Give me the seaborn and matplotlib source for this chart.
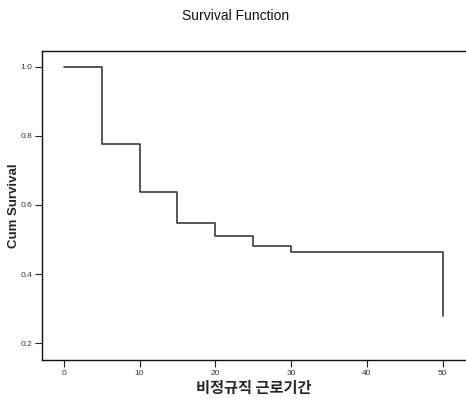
import matplotlib
matplotlib.use("Agg")
import matplotlib.pyplot as plt
import seaborn as sns
import pandas as pd

time = [0, 5, 10, 15, 20, 25, 30, 50]
cum_survival = [1.0, 0.778, 0.638, 0.547, 0.510, 0.482, 0.465, 0.278]
x_ticks = [0, 10, 20, 30, 40, 50]
y_ticks = [0.2, 0.4, 0.6, 0.8, 1.0]

sns.set_style("white")
plt.rcParams['font.family'] = ['Liberation Sans', 'Noto Sans CJK KR', 'DejaVu Sans']

df = pd.DataFrame({"time": time, "surv": cum_survival})

fig = plt.figure(figsize=(4.66, 3.99), dpi=100)
ax = fig.add_axes([42/466, 1-360/399, 1-42/466, (360-51)/399])

sns.lineplot(data=df, x="time", y="surv", drawstyle="steps-post", estimator=None,
             color="#3a3a3a", linewidth=1.2, ax=ax)

ax.set_xlim(-2.88, 53.1)
ax.set_ylim(0.151, 1.046)
ax.set_xticks(x_ticks)
ax.set_xticklabels([str(t) for t in x_ticks])
ax.set_yticks(y_ticks)
ax.set_yticklabels([f"{t:.1f}" for t in y_ticks])
ax.tick_params(axis="both", which="major", length=5, width=0.8, color="#222222",
               labelsize=6, labelcolor="#333333", pad=2, bottom=True, left=True)

for s in ["left", "bottom", "top"]:
    ax.spines[s].set_color("#111111")
    ax.spines[s].set_linewidth(1.0)
ax.spines["right"].set_visible(False)

ax.set_xlabel("비정규직 근로기간", fontsize=11, fontweight="bold",
              family=['Noto Sans CJK KR', 'DejaVu Sans'], labelpad=2)
ax.set_ylabel("Cum Survival", fontsize=9.5, fontweight="bold")
ax.yaxis.set_label_coords((20 - 42) / 424, 0.5)
fig.suptitle("Survival Function", x=236/466, y=1-16/399, va="center",
             fontsize=10, color="#111111")

fig.savefig("out.png", dpi=100)
